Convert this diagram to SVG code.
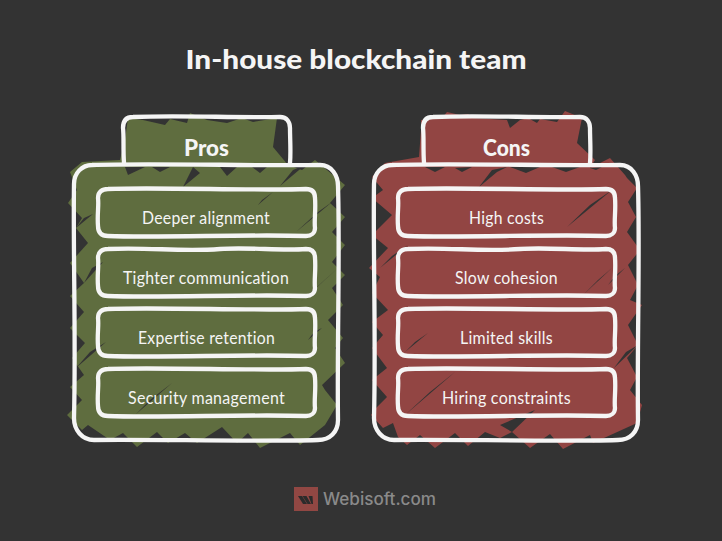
<svg xmlns="http://www.w3.org/2000/svg" width="722" height="541" viewBox="0 0 722 541">
<style>
.bg{fill:#333333}
.slit{fill:#333333}
.ln{fill:none;stroke:#f5f5f5;stroke-width:4.300;stroke-linejoin:round;stroke-linecap:round}
text{font-family:"Lato","Noto Sans",sans-serif;fill:#f5f5f5;text-anchor:middle}
.t{font-size:17px;letter-spacing:.3px}
.h{font-size:22px;font-weight:900}
</style>
<rect class="bg" width="722" height="541"/>
<text id="title" x="356" y="69" font-size="27" font-weight="900" textLength="341" lengthAdjust="spacingAndGlyphs">In-house blockchain team</text>
<g id="pros">
<path fill="#5f6d3f" d="M128 118 143 120 165 125 170 119 187 123 190 113 207 120 227 123 242 118 253 122 277 118 273 147 288 165 302 170 315 160 345 185 330 203 345 217 332 232 345 245 332 262 345 275 332 288 343 305 328 320 343 338 335 348 345 363 322 385 325 390 337 405 325 425 300 445 290 433 260 448 248 433 237 443 222 427 197 443 185 433 168 443 157 432 137 447 123 433 110 440 88 425 82 430 67 415 82 400 70 387 84 375 72 358 85 343 70 328 84 312 70 296 84 283 70 263 88 243 76 228 82 218 68 203 77 190 70 172 82 162 120 160 125 140Z"/>
<path class="slit" d="M125 167 128 175 145 167ZM160 172 170 167 152 167ZM220 167 227 176 237 167ZM252 167 260 173 267 167ZM183 187 200 173 193 167ZM280 186 305 165 293 170ZM258 205 273 192 262 200ZM296 232 332 202 318 212ZM76 228 93 214 84 218ZM300 302 338 268 316 288ZM308 340 322 328 314 332ZM135 415 172 383 150 400ZM76 368 106 342 90 352ZM84 283 103 262 92 268Z"/>
<path class="ln" d="M124 163 C123 150 124 135 123 128 C123 120 127 117 133 117 C180 115 235 118 280 117 C287 117 290 122 290 128 C290 140 291 152 290 163"/>
<path class="ln" d="M92 165 C150 163 260 166 320 165 C332 165 338 176 338 186 C340 250 337 350 338 420 C338 432 330 440 318 440 C250 442 150 439 94 440 C82 440 74 430 74 418 C76 340 73 250 74 184 C74 173 82 165 92 165Z"/>
<path class="ln" d="M108 189 C160 187 260 191 306 189 C313 189 315 193 315 198 C316 210 314 220 315 228 C315 233 311 236 306 236 C250 234 160 238 108 236 C101 236 98 232 98 226 C97 215 99 205 98 198 C98 192 102 189 108 189Z"/>
<path class="ln" d="M108 249 C150 247 180 252 220 249 C250 247 280 251 306 249 C313 249 315 253 315 258 C316 270 314 280 315 288 C315 293 311 296 306 296 C250 294 160 298 108 296 C101 296 98 292 98 286 C97 275 99 265 98 258 C98 252 102 249 108 249Z"/>
<path class="ln" d="M108 309 C160 307 260 311 306 309 C313 309 315 313 315 318 C316 330 314 340 315 348 C315 353 311 356 306 356 C250 354 160 358 108 356 C101 356 98 352 98 346 C97 335 99 325 98 318 C98 312 102 309 108 309Z"/>
<path class="ln" d="M108 369 C160 367 260 371 306 369 C313 369 315 373 315 378 C316 390 314 400 315 408 C315 413 311 416 306 416 C250 414 160 418 108 416 C101 416 98 412 98 406 C97 395 99 385 98 378 C98 372 102 369 108 369Z"/>
<text class="h" x="206.500" y="156" textLength="45" lengthAdjust="spacingAndGlyphs">Pros</text>
<text class="t" x="206" y="224" textLength="128" lengthAdjust="spacingAndGlyphs">Deeper alignment</text>
<text class="t" x="206" y="284" textLength="166" lengthAdjust="spacingAndGlyphs">Tighter communication</text>
<text class="t" x="206.500" y="344" textLength="137" lengthAdjust="spacingAndGlyphs">Expertise retention</text>
<text class="t" x="206.500" y="404" textLength="157" lengthAdjust="spacingAndGlyphs">Security management</text>
</g>
<g id="cons">
<path fill="#924543" d="M421 120 442 118 447 112 460 115 468 114 473 118 507 120 510 128 520 120 528 118 537 123 540 119 557 122 565 111 582 118 577 143 595 160 590 168 610 158 625 175 627 178 637 188 628 202 636 217 627 232 640 250 628 265 638 285 630 300 642 305 628 325 638 345 627 358 637 377 630 390 642 405 637 423 593 443 590 435 563 449 550 434 530 448 512 432 500 438 485 432 468 446 455 433 435 448 420 435 407 445 398 437 393 423 383 428 371 415 377 407 387 397 372 380 387 368 372 348 383 335 372 322 388 310 372 293 380 277 369 268 388 248 372 235 392 215 372 198 383 190 372 177 385 163 419 157 421 130Z"/>
<path class="slit" d="M425 167 435 172 445 167ZM455 168 462 172 472 167ZM479 187 497 172 507 167 492 170ZM510 167 526 173 540 167ZM552 167 566 172 580 167ZM590 168 596 170 602 167ZM567 227 612 190 590 205ZM380 268 408 245 392 256ZM583 295 612 268 598 280ZM608 285 625 268 615 276ZM405 352 428 333 415 342ZM405 415 455 372 430 392ZM500 425 535 410 512 432ZM614 368 638 345 626 352Z"/>
<path class="ln" d="M424 163 C423 150 424 135 423 128 C423 120 427 117 433 117 C480 115 535 118 580 117 C587 117 590 122 590 128 C590 140 591 152 590 163"/>
<path class="ln" d="M392 165 C450 163 560 166 620 165 C632 165 638 176 638 186 C640 250 637 350 638 420 C638 432 630 440 618 440 C550 442 450 439 394 440 C382 440 374 430 374 418 C376 340 373 250 374 184 C374 173 382 165 392 165Z"/>
<path class="ln" d="M408 189 C460 187 560 191 606 189 C613 189 615 193 615 198 C616 210 614 220 615 228 C615 233 611 236 606 236 C550 234 460 238 408 236 C401 236 398 232 398 226 C397 215 399 205 398 198 C398 192 402 189 408 189Z"/>
<path class="ln" d="M408 249 C450 247 480 252 520 249 C550 247 580 251 606 249 C613 249 615 253 615 258 C616 270 614 280 615 288 C615 293 611 296 606 296 C550 294 460 298 408 296 C401 296 398 292 398 286 C397 275 399 265 398 258 C398 252 402 249 408 249Z"/>
<path class="ln" d="M408 309 C460 307 560 311 606 309 C613 309 615 313 615 318 C616 330 614 340 615 348 C615 353 611 356 606 356 C550 354 460 358 408 356 C401 356 398 352 398 346 C397 335 399 325 398 318 C398 312 402 309 408 309Z"/>
<path class="ln" d="M408 369 C460 367 560 371 606 369 C613 369 615 373 615 378 C616 390 614 400 615 408 C615 413 611 416 606 416 C550 414 460 418 408 416 C401 416 398 412 398 406 C397 395 399 385 398 378 C398 372 402 369 408 369Z"/>
<text class="h" x="506.500" y="156" textLength="47" lengthAdjust="spacingAndGlyphs">Cons</text>
<text class="t" x="506.500" y="224" textLength="75" lengthAdjust="spacingAndGlyphs">High costs</text>
<text class="t" x="506.500" y="284" textLength="103" lengthAdjust="spacingAndGlyphs">Slow cohesion</text>
<text class="t" x="506.500" y="344" textLength="93" lengthAdjust="spacingAndGlyphs">Limited skills</text>
<text class="t" x="506.500" y="404" textLength="129" lengthAdjust="spacingAndGlyphs">Hiring constraints</text>
</g>
<g id="logo">
<rect x="294" y="487" width="24" height="24" fill="#914743"/>
<path fill="#2b2b2b" d="M298 496 302 496 307 504 303 504ZM302.500 496 306.500 496 311 504 307.500 504ZM308.500 496 312.500 496 313 504 311.500 504Z"/>
<text x="379.500" y="505" font-size="17" font-weight="500" style="font-family:'Inter','Open Sans',sans-serif;fill:#8a8a8a" textLength="113" lengthAdjust="spacingAndGlyphs">Webisoft.com</text>
</g>
<g id="connectors"/>
</svg>
